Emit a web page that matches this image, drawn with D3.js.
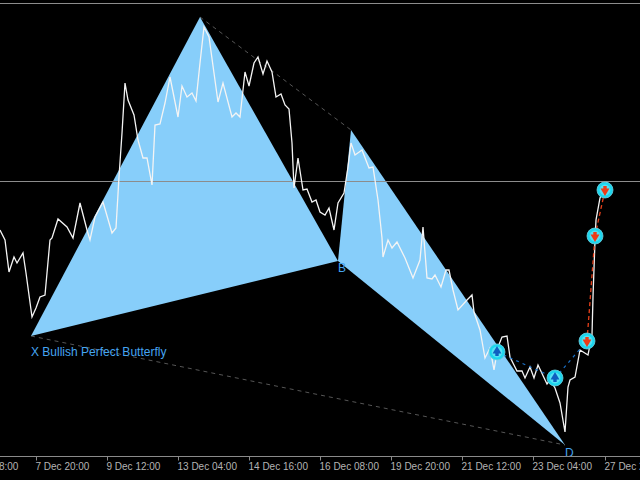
<!DOCTYPE html>
<html>
<head>
<meta charset="utf-8">
<style>
html, body { margin: 0; padding: 0; background: #000; overflow: hidden; }
#chart { width: 640px; height: 480px; }
</style>
<script src="https://cdn.jsdelivr.net/npm/d3@7"></script>
</head>
<body>
<div id="chart"></div>
<script>
// close line
var closeSlots = [0,5,9,14,17,23,26,32,36,40,45,47,50,52,58,67,73,80,87,90,95,103,112,116,119,122,125,128,134,138,143,147,152,155,160,165,170,178,182,187,192,196,200,204,209,218,223,232,236,240,243,245,249,254,258,263,267,272,276,281,285,289,292,294,298,303,307,312,316,320,325,329,334,338,344,348,351,355,362,369,373,378,382,383,388,392,397,405,413,420,423,427,432,435,441,446,449,453,458,467,472,474,480,485,490,494,498,502,507,510,517,522,525,530,534,538,547,550,555,560,565,568,570,575,580,588,592,593,595,596,600,607];
var closePrices = [1250,1240,1208,1223,1217,1227,1207,1163,1172,1183,1185,1207,1240,1242,1261,1253,1242,1277,1250,1240,1263,1278,1247,1252,1303,1347,1397,1380,1365,1340,1322,1322,1295,1355,1356,1377,1403,1363,1394,1383,1387,1379,1417,1453,1443,1378,1397,1363,1367,1363,1390,1408,1394,1417,1423,1406,1419,1408,1383,1386,1375,1371,1337,1292,1322,1290,1291,1278,1280,1268,1265,1272,1250,1277,1287,1313,1337,1325,1330,1312,1313,1280,1242,1223,1240,1232,1238,1222,1202,1220,1253,1202,1201,1205,1193,1210,1210,1190,1170,1180,1185,1168,1150,1122,1132,1110,1133,1143,1144,1123,1109,1109,1102,1113,1102,1115,1096,1100,1092,1077,1048,1093,1100,1103,1130,1125,1145,1183,1240,1260,1282,1298];

// harmonic pattern X A B C D
var patternNames = ['X', 'A', 'B', 'C', 'D'];
var patternSlots = [31, 200, 338, 351, 565];
var patternPrices = [1144, 1463, 1219, 1350, 1035];

// entry (blue) and target (red) markers
var entrySlots = [497, 555, 587];
var entryPrices = [1128, 1102, 1139];
var targetSlots = [587, 595, 605];
var targetPrices = [1139, 1244, 1290];

var levelPrices = [1477, 1299];

var tickSlots = [-35, 36, 107, 178, 249, 320, 391, 462, 533, 605];
var tickLabels = ['6 Dec 08:00', '7 Dec 20:00', '9 Dec 12:00', '13 Dec 04:00', '14 Dec 16:00', '16 Dec 08:00', '19 Dec 20:00', '21 Dec 12:00', '23 Dec 04:00', '27 Dec 20:00'];

function drawChart() {
    var width = 640, height = 480, axisY = 456.5;
    var fontName = 'Liberation Sans, Arial, sans-serif';

    var svg = d3.select('#chart').append('svg')
        .attr('width', width)
        .attr('height', height)
        .style('display', 'block')
        .style('background', '#000');

    var x = d3.scaleLinear().domain([0, 640]).range([0, width]);
    var y = d3.scaleLinear().domain([1000, 1480]).range([height, 0]);

    var pts = function(slots, prices) {
        return slots.map(function(s, i) { return [s, prices[i]]; });
    };
    var line = d3.line()
        .x(function(d) { return x(d[0]); })
        .y(function(d) { return y(d[1]); });

    var pattern = pts(patternSlots, patternPrices);

    // X-D and A-C dashed
    [[0, 4], [1, 3]].forEach(function(p) {
        svg.append('path')
            .attr('d', line([pattern[p[0]], pattern[p[1]]]))
            .attr('fill', 'none')
            .attr('stroke', '#565656')
            .attr('stroke-width', 1)
            .attr('stroke-dasharray', '4,4');
    });

    // the two wings
    [[0, 1, 2], [2, 3, 4]].forEach(function(t) {
        svg.append('path')
            .attr('d', line(t.map(function(i) { return pattern[i]; })) + 'Z')
            .attr('fill', '#87cefa')
            .attr('stroke', 'none');
    });

    // horizontal levels
    svg.selectAll('line.level').data(levelPrices).enter().append('line')
        .attr('class', 'level')
        .attr('x1', 0)
        .attr('x2', width)
        .attr('y1', function(d) { return Math.round(y(d)) + 0.5; })
        .attr('y2', function(d) { return Math.round(y(d)) + 0.5; })
        .attr('stroke', '#8c8c8c')
        .attr('stroke-width', 1.2);

    svg.append('path')
        .attr('d', line(pts(closeSlots, closePrices)))
        .attr('fill', 'none')
        .attr('stroke', '#f4f4f4')
        .attr('stroke-width', 1.3)
        .attr('stroke-linejoin', 'miter');

    // trade lines
    svg.append('path')
        .attr('d', line(pts(entrySlots, entryPrices)))
        .attr('fill', 'none')
        .attr('stroke', '#1a6fc4')
        .attr('stroke-width', 1.2)
        .attr('stroke-dasharray', '3,4');
    svg.append('path')
        .attr('d', line(pts(targetSlots, targetPrices)))
        .attr('fill', 'none')
        .attr('stroke', '#e8401a')
        .attr('stroke-width', 1.3)
        .attr('stroke-dasharray', '4,3');

    // markers
    var drawMarker = function(slot, price, color, dir) {
        var g = svg.append('g')
            .attr('transform', 'translate(' + x(slot) + ',' + y(price) + ')');
        g.append('circle')
            .attr('r', 8)
            .attr('fill', '#1cd6ee')
            .attr('stroke', '#6fcfdf')
            .attr('stroke-width', 0.8);
        g.append('circle')
            .attr('r', 5.4)
            .attr('fill', '#55e2f4');
        g.append('path')
            .attr('d', d3.symbol().type(d3.symbolTriangle).size(34))
            .attr('transform', 'translate(0,' + (-dir * 1) + ') scale(1,' + dir + ')')
            .attr('fill', color);
        g.append('rect')
            .attr('x', -1.7)
            .attr('y', dir > 0 ? 0 : -4)
            .attr('width', 3.4)
            .attr('height', 4)
            .attr('fill', color);
    };
    entrySlots.slice(0, 2).forEach(function(s, i) {
        drawMarker(s, entryPrices[i], '#0f5fc0', 1);
    });
    targetSlots.forEach(function(s, i) {
        drawMarker(s, targetPrices[i], '#ee3b16', -1);
    });

    // labels
    var labelColor = '#45a5f0';
    svg.append('text')
        .attr('x', x(patternSlots[0]))
        .attr('y', y(patternPrices[0]) + 20)
        .attr('fill', labelColor)
        .style('font', '12px ' + fontName)
        .text(patternNames[0] + ' Bullish Perfect Butterfly');
    [2, 4].forEach(function(i) {
        svg.append('text')
            .attr('x', x(patternSlots[i]))
            .attr('y', y(patternPrices[i]) + (i === 2 ? 11 : 12))
            .attr('fill', labelColor)
            .style('font', '12px ' + fontName)
            .text(patternNames[i]);
    });

    // time axis
    var axis = d3.axisBottom(x)
        .tickValues(tickSlots)
        .tickSize(4)
        .tickFormat(function(d, i) { return tickLabels[i]; });
    var axisNode = svg.append('g')
        .attr('transform', 'translate(0,' + axisY + ')')
        .call(axis);
    axisNode.select('.domain').attr('stroke', '#8a8a8a').attr('d', 'M0,0H' + width);
    axisNode.selectAll('.tick line').attr('stroke', '#8a8a8a');
    axisNode.selectAll('.tick text')
        .attr('text-anchor', 'start')
        .attr('x', -1)
        .attr('y', 6)
        .attr('fill', '#b4b4b4')
        .style('font', '10px ' + fontName);
}
document.addEventListener('DOMContentLoaded', drawChart);
</script>
</body>
</html>
